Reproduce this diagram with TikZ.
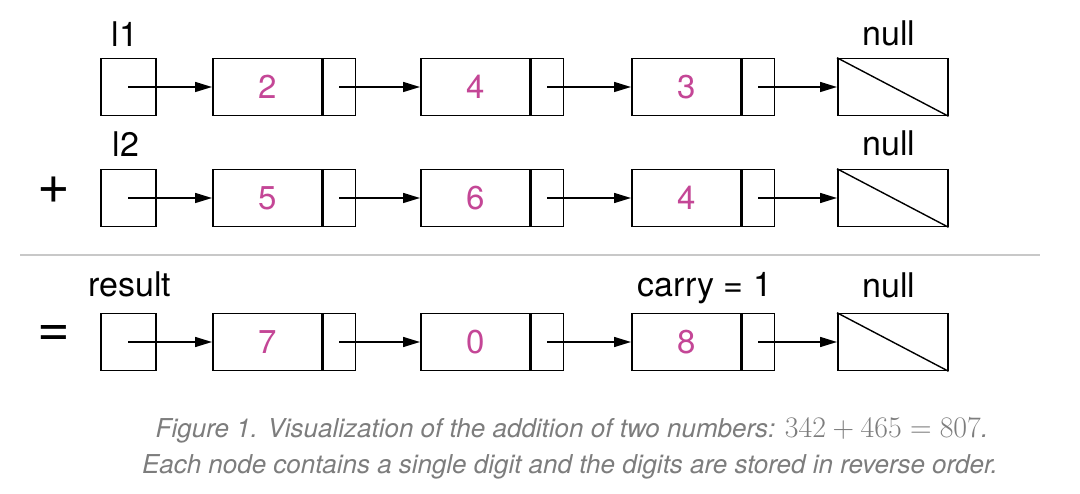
\documentclass[tikz,border=0pt]{standalone}
\usepackage{graphicx}
\usepackage{fontspec}
\setmainfont{TeX Gyre Heros}
\usetikzlibrary{arrows.meta}
\definecolor{digit}{RGB}{196,70,150}
\definecolor{capgray}{RGB}{125,125,125}
\definecolor{rulegray}{RGB}{200,200,200}
\begin{document}
\begin{tikzpicture}[x=1pt,y=-1pt,
  box/.style={draw,line width=1.5pt,inner sep=0pt,anchor=west,minimum height=57pt},
  headbox/.style={box,minimum width=55pt},
  databox/.style={box,minimum width=109pt,text=digit,font=\fontsize{33}{36}\selectfont},
  ptrbox/.style={box,minimum width=32pt},
  nullbox/.style={box,minimum width=110pt},
  lbl/.style={anchor=base,font=\fontsize{34}{38}\selectfont},
  op/.style={font=\fontsize{56}{60}\selectfont},
  link/.style={line width=1.5pt,-{Triangle[length=17pt,width=10pt]}},
  captext/.style={anchor=base,text=capgray,font=\fontsize{26}{30}\selectfont\itshape}]
\useasboundingbox (0,0) rectangle (1080,494);
\fill[white] (0,0) rectangle (1080,494);
% rows
\foreach \r/\y/\a/\b/\c in {1/87/2/4/3, 2/198/5/6/4, 3/342/7/0/8}{
  \node[headbox] (h\r) at (100,\y) {};
  \node[databox] (d\r1) at (212,\y) {\a};
  \node[ptrbox,anchor=west] (p\r1) at (d\r1.east) {};
  \node[databox] (d\r2) at (420,\y) {\b};
  \node[ptrbox,anchor=west] (p\r2) at (d\r2.east) {};
  \node[databox] (d\r3) at (631,\y) {\c};
  \node[ptrbox,anchor=west] (p\r3) at (d\r3.east) {};
  \node[nullbox] (n\r) at (837,\y) {};
  \draw[line width=1.4pt] (n\r.north west) -- (n\r.south east);
  \draw[link] (h\r.center) -- (d\r1.west);
  \draw[link] (p\r1.center) -- (d\r2.west);
  \draw[link] (p\r2.center) -- (d\r3.west);
  \draw[link] (p\r3.center) -- (n\r.west);
}
% labels
\node[lbl] (l1) at (125,47) {l1};
\node[lbl] (nl1) at (889,46) {null};
\node[lbl] (l2) at (126,157) {l2};
\node[lbl] (nl2) at (889,156) {null};
\node[lbl] (res) at (130,297) {result};
\node[lbl] (car) at (705,297) {carry = 1};
\node[lbl] (nl3) at (889,298) {null};
\node[op] (plus) at (54,190) {+};
\node[op] (eq) at (54,336) {=};
\draw[rulegray,line width=1.2pt] (20,255) -- (1040,255);
% caption
\node[captext] (c1) at (572,438) {Figure 1. Visualization of the addition of two numbers: \scalebox{1.2}{$342+465=807$}.};
\node[captext] (c2) at (570,474) {Each node contains a single digit and the digits are stored in reverse order.};
\end{tikzpicture}
\end{document}
